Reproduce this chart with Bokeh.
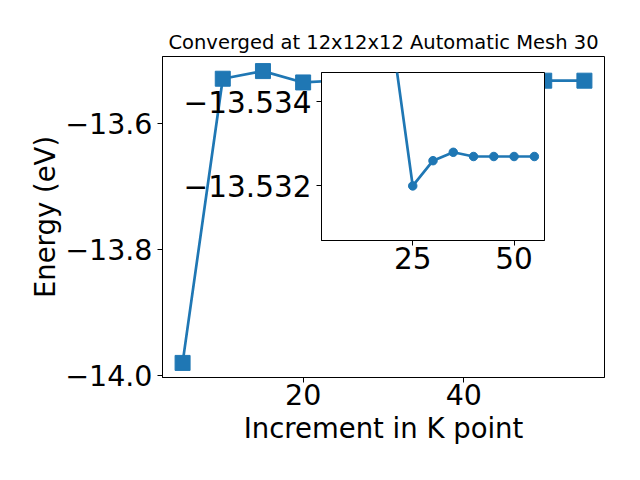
from bokeh.plotting import figure
from bokeh.models import Range1d, FixedTicker, CustomJSTickFormatter, Column
from bokeh.embed import file_html
from bokeh.resources import INLINE

# ---- data ----
kpoints = [5, 10, 15, 20, 25, 30, 35, 40, 45, 50, 55]
energy = [-13.980, -13.5296, -13.5175, -13.5355, -13.5320, -13.5326,
          -13.5328, -13.5327, -13.5327, -13.5327, -13.5327]
inset_start = 3  # inset shows the points from 20 onward
main_xticks = [20, 40]
main_yticks = [-14.0, -13.8, -13.6]
inset_xticks = [25, 50]
inset_yticks = [-13.534, -13.532]
inset_ylim = (-13.5307, -13.5347)  # bottom, top (inverted axis)
title_text = "Converged at 12x12x12 Automatic Mesh 30"
xlabel = "Increment in K point"
ylabel = "Energy (eV)"

BLUE = "#1f77b4"
FONT = "DejaVu Sans"

xpad = 0.05 * (max(kpoints) - min(kpoints))
ypad = 0.05 * (max(energy) - min(energy))


def style_axes(fig, fsize):
    for ax in (fig.xaxis[0], fig.yaxis[0]):
        ax.axis_line_color = "black"
        ax.axis_line_width = 1
        ax.major_tick_line_color = "black"
        ax.major_tick_out = 5
        ax.major_tick_in = 0
        ax.minor_tick_line_color = None
        ax.major_label_text_font = FONT
        ax.major_label_text_font_size = fsize
        ax.major_label_text_color = "black"
        ax.axis_label_text_font = FONT
        ax.axis_label_text_font_size = "27.5px"
        ax.axis_label_text_font_style = "normal"
        ax.axis_label_text_color = "black"
    fig.xgrid.visible = False
    fig.ygrid.visible = False
    fig.outline_line_color = "black"
    fig.outline_line_width = 1
    fig.outline_line_alpha = 1


# ---- main figure ----
p = figure(width=624, height=464, output_backend="svg", toolbar_location=None,
           x_range=Range1d(min(kpoints) - xpad, max(kpoints) + xpad),
           y_range=Range1d(min(energy) - ypad, max(energy) + ypad),
           min_border_left=162, min_border_right=20,
           min_border_top=56, min_border_bottom=87,
           title=title_text)
p.title.align = "center"
p.title.text_font = FONT
p.title.text_font_size = "19.5px"
p.title.text_font_style = "normal"
p.title.text_color = "black"
p.title.standoff = 6
style_axes(p, "28.5px")
p.xaxis.ticker = FixedTicker(ticks=main_xticks)
p.yaxis.ticker = FixedTicker(ticks=main_yticks)
p.yaxis.formatter = CustomJSTickFormatter(
    code="return (tick < 0 ? '\u2212' : '') + Math.abs(tick).toFixed(1);")
p.xaxis.axis_label = xlabel
p.yaxis.axis_label = ylabel
p.xaxis.major_label_standoff = 1
p.xaxis.axis_label_standoff = 4
p.yaxis.axis_label_standoff = 1

p.line(kpoints, energy, line_width=2.7, color=BLUE)
p.scatter(kpoints, energy, marker="square", size=15, color=BLUE)

# ---- inset (left/right borders equal the main figure's, since the
# column aligns them) ----
ins = figure(width=405, height=228, output_backend="svg", toolbar_location=None,
             x_range=Range1d(min(kpoints) - xpad, max(kpoints) + xpad),
             y_range=Range1d(inset_ylim[0], inset_ylim[1]),
             min_border_left=162, min_border_right=20,
             min_border_top=10, min_border_bottom=50)
ins.border_fill_color = None
ins.background_fill_color = "white"
style_axes(ins, "29.5px")
ins.xaxis.ticker = FixedTicker(ticks=inset_xticks)
ins.yaxis.ticker = FixedTicker(ticks=inset_yticks)
ins.yaxis.formatter = CustomJSTickFormatter(
    code="return (tick < 0 ? '\u2212' : '') + Math.abs(tick).toFixed(3);")
ins.xaxis.major_label_standoff = 1
ins.line(kpoints[inset_start:], energy[inset_start:], line_width=2.7, color=BLUE)
ins.scatter(kpoints[inset_start:], energy[inset_start:], size=8.5, color=BLUE)
ins.styles = {"position": "absolute", "left": "159px", "top": "62px",
              "width": "405px", "height": "228px"}

layout = Column(p, ins)

open("out.html", "w").write(file_html(layout, INLINE))
